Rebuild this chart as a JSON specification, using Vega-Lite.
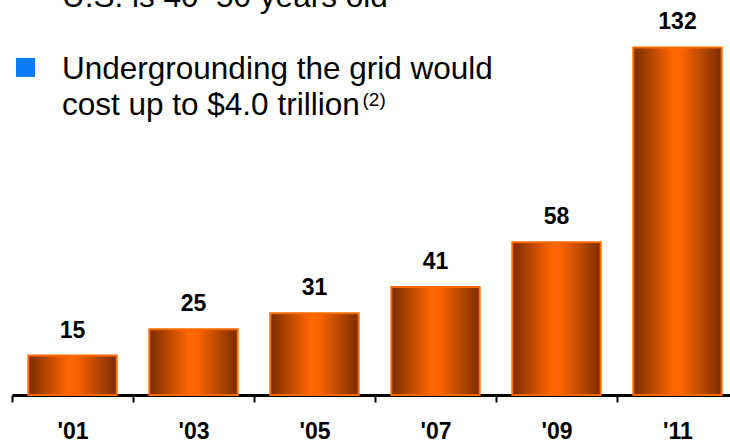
{
  "$schema": "https://vega.github.io/schema/vega-lite/v6.json",
  "width": 718,
  "height": 395,
  "autosize": {"type": "none"},
  "padding": {"left": 12, "top": 0, "right": 0, "bottom": 49},
  "background": "white",
  "config": {"view": {"stroke": null}, "font": "Liberation Sans"},
  "data": {
    "values": [
      {"year": "'01", "value": 15},
      {"year": "'03", "value": 25},
      {"year": "'05", "value": 31},
      {"year": "'07", "value": 41},
      {"year": "'09", "value": 58},
      {"year": "'11", "value": 132}
    ]
  },
  "layer": [
    {
      "mark": {
        "type": "bar",
        "width": {"band": 0.73},
        "stroke": "#FF6A00",
        "strokeWidth": 2,
        "color": {
          "gradient": "linear",
          "x1": 0, "x2": 1, "y1": 0, "y2": 0,
          "stops": [
            {"offset": 0, "color": "#7A2C00"},
            {"offset": 0.45, "color": "#FF6600"},
            {"offset": 0.55, "color": "#FA6400"},
            {"offset": 1, "color": "#7A2C00"}
          ]
        }
      },
      "encoding": {
        "x": {
          "field": "year",
          "type": "ordinal",
          "sort": null,
          "scale": {"range": [0, 726], "paddingInner": 0, "paddingOuter": 0},
          "axis": {
            "title": null,
            "domainColor": "black",
            "domainWidth": 3,
            "tickColor": "black",
            "tickWidth": 2,
            "tickSize": 7,
            "tickBand": "extent",
            "labelFont": "Liberation Sans",
            "labelFontWeight": "bold",
            "labelFontSize": 23,
            "labelColor": "black",
            "labelBaseline": "alphabetic",
            "labelPadding": 36,
            "labelAngle": 0
          }
        },
        "y": {
          "field": "value",
          "type": "quantitative",
          "scale": {"domain": [0, 150], "nice": false},
          "axis": null
        }
      }
    },
    {
      "mark": {
        "type": "text",
        "fontWeight": "bold",
        "fontSize": 23,
        "color": "black",
        "baseline": "alphabetic",
        "dy": -18
      },
      "encoding": {
        "x": {"field": "year", "type": "ordinal", "sort": null},
        "y": {"field": "value", "type": "quantitative", "scale": {"domain": [0, 150], "nice": false}},
        "text": {"field": "value", "type": "quantitative"}
      }
    },
    {
      "transform": [{"filter": "datum.value == 15"}],
      "mark": {
        "type": "text",
        "text": "U.S. is 40–50 years old",
        "align": "left",
        "baseline": "alphabetic",
        "fontSize": 31.5,
        "fill": "black",
        "dx": -10.5
      },
      "encoding": {
        "x": {"field": "year", "type": "ordinal", "sort": null},
        "y": {"datum": 147.3, "type": "quantitative", "scale": {"domain": [0, 150], "nice": false}}
      }
    },
    {
      "transform": [{"filter": "datum.value == 15"}],
      "mark": {
        "type": "text",
        "text": ["Undergrounding the grid would", "cost up to $4.0 trillion"],
        "align": "left",
        "baseline": "alphabetic",
        "lineHeight": 36,
        "fontSize": 31.5,
        "fill": "black",
        "dx": -10.5
      },
      "encoding": {
        "x": {"field": "year", "type": "ordinal", "sort": null},
        "y": {"datum": 120.0, "type": "quantitative", "scale": {"domain": [0, 150], "nice": false}}
      }
    },
    {
      "transform": [{"filter": "datum.value == 31"}],
      "mark": {
        "type": "text",
        "text": "(2)",
        "align": "left",
        "baseline": "alphabetic",
        "fontSize": 19,
        "fill": "black",
        "dx": 48
      },
      "encoding": {
        "x": {"field": "year", "type": "ordinal", "sort": null},
        "y": {"datum": 109.6, "type": "quantitative", "scale": {"domain": [0, 150], "nice": false}}
      }
    },
    {
      "data": {"values": [{"year": "'01", "note": "bullet"}]},
      "mark": {"type": "point", "shape": "square", "filled": true, "size": 361, "fill": "#0B7BF4", "opacity": 1},
      "encoding": {
        "x": {"field": "year", "type": "ordinal", "sort": null, "bandPosition": 0.1116},
        "y": {"datum": 124.4, "type": "quantitative", "scale": {"domain": [0, 150], "nice": false}}
      }
    }
  ]
}
